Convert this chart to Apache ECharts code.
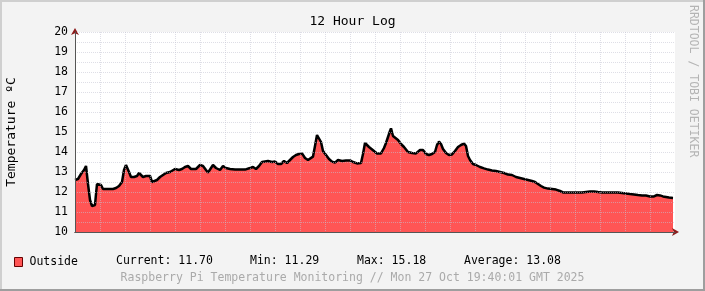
<!DOCTYPE html>
<html>
<head>
<meta charset="utf-8">
<script src="https://cdn.jsdelivr.net/npm/echarts@6/dist/echarts.min.js"></script>
<style>
html,body{margin:0;padding:0;background:#F3F3F3;}
#chart{width:705px;height:291px;}
</style>
</head>
<body>
<div id="chart"></div>
<script>
// time of each reading, minutes since midnight (07:40 .. 19:40)
var minutes = [
460,463.6,467.2,470.8,473.2,474.4,475.6,478,480.4,484,485.2,486.4,488.8,491.2,493.6,499.6,505.6,509.2,512.8,516.4,
518.8,521.2,522.4,524.8,527.2,530.8,534.4,536.8,539.2,541.6,545.2,547.6,550,552.4,554.8,558.4,562,565.6,569.2,571.6,
574,576.4,580,582.4,584.8,588.4,592,595.6,599.2,601.6,605.2,610,613.6,617.2,619.6,623.2,625.6,629.2,631.6,634,
637.6,641.2,646,652,658,664,670,673.6,677.2,680.8,684.4,686.8,691.6,696.4,700,703.6,707.2,710.8,714.4,718,
721.6,725.2,728.8,732.4,736,739.6,742,745.6,748,750.4,752.8,755.2,757.6,761.2,764.8,768.4,772,775.6,780.4,785.2,
790,793.6,798.4,803.2,805.6,808,810.4,812.8,815.2,818.8,822.4,827.2,830.8,833.2,835.6,838,839.2,841.6,844,847.6,
851.2,854.8,859.6,864.4,869.2,871.6,874,877.6,881.2,884.8,888.4,892,894.4,896.8,899.2,901.6,905.2,908.8,912.4,916,
919.6,923.2,926.8,929.2,931.6,934,937.6,941.2,946,950.8,955.6,960.4,965.2,970,974.8,979.6,984.4,989.2,994,998.8,
1003.6,1008.4,1012,1015.6,1019.2,1022.8,1027.6,1032.4,1037.2,1042,1045.6,1050.4,1056.4,1062.4,1068.4,1073.2,1078,1082.8,1087.6,1092.4,
1097.2,1102,1106.8,1111.6,1116.4,1121.2,1126,1130.8,1135.6,1140.4,1145.2,1150,1154.8,1158.4,1162,1165.6,1169.2,1172.8,1177.6
];
// outside temperature, °C
var temps = [
12.6,12.65,12.9,13.1,13.3,13.2,12.4,11.6,11.3,11.35,11.9,12.4,12.3,12.35,12.15,12.15,12.15,12.2,12.3,12.5,
13.1,13.35,13.4,13.0,12.75,12.75,12.8,12.95,12.85,12.75,12.8,12.7,12.8,12.5,12.45,12.6,12.75,12.85,12.95,12.9,
13.0,12.95,13.15,13.05,13.1,13.15,13.25,13.3,13.15,13.05,13.15,13.35,13.3,13.1,12.97,13.2,13.35,13.2,13.1,13.1,
13.3,13.2,13.15,13.12,13.12,13.12,13.2,13.25,13.15,13.3,13.5,13.58,13.55,13.5,13.52,13.4,13.4,13.55,13.45,13.6,
13.75,13.85,13.9,13.93,13.7,13.6,13.52,13.77,14.3,14.85,14.9,14.5,14.05,13.85,13.65,13.52,13.47,13.6,13.55,13.58,
13.58,13.5,13.43,13.45,13.9,14.45,14.4,14.25,14.2,14.05,13.93,13.93,14.2,14.45,14.75,15.05,15.18,14.8,14.9,14.6,
14.4,14.25,14.0,13.95,13.93,13.85,14.1,14.1,13.9,13.85,13.9,14.0,14.35,14.52,14.4,14.15,13.95,13.85,13.88,14.05,
14.25,14.35,14.42,14.3,13.8,13.6,13.4,13.35,13.25,13.18,13.12,13.08,13.05,13.0,12.95,12.87,12.85,12.75,12.7,12.65,
12.6,12.55,12.5,12.4,12.3,12.22,12.17,12.15,12.12,12.05,11.98,11.98,11.97,11.98,11.98,12.0,12.02,12.03,12.0,11.98,
11.97,11.97,11.98,11.97,11.95,11.93,11.9,11.88,11.85,11.83,11.82,11.78,11.78,11.85,11.83,11.78,11.75,11.72,11.70
];
var tickMinutes = [480, 600, 720, 840, 960, 1080];
var tickLabels = ['08:00', '10:00', '12:00', '14:00', '16:00', '18:00'];
var seriesName = 'Outside';
var statLabels = ['Current: 11.70', 'Min: 11.29', 'Max: 15.18', 'Average: 13.08'];
var titleText = '12 Hour Log';
var yName = 'Temperature \u00baC';
var footerText = 'Raspberry Pi Temperature Monitoring // Mon 27 Oct 19:40:01 GMT 2025';
var sideText = 'RRDTOOL / TOBI OETIKER';

var FONT = 'DejaVu Sans Mono';
var gridColor = 'rgba(195,195,210,0.55)';
var chart = echarts.init(document.getElementById('chart'), null, {renderer: 'canvas'});

var statX = [116, 250, 357, 464];
var graphics = [
  {type: 'rect', shape: {x: 0, y: 0, width: 705, height: 2}, style: {fill: '#CFCFCF'}, silent: true},
  {type: 'rect', shape: {x: 0, y: 0, width: 2, height: 291}, style: {fill: '#CFCFCF'}, silent: true},
  {type: 'rect', shape: {x: 0, y: 289, width: 705, height: 2}, style: {fill: '#9E9E9E'}, silent: true},
  {type: 'rect', shape: {x: 703, y: 0, width: 2, height: 291}, style: {fill: '#9E9E9E'}, silent: true},
  {type: 'text', x: 352.5, y: 278, style: {text: footerText, font: '11.5px "' + FONT + '"', fill: '#AAAAAA', align: 'center', verticalAlign: 'middle'}},
  {type: 'text', x: 693, y: 5, rotation: -Math.PI / 2, style: {text: sideText, font: '11.5px "' + FONT + '"', fill: '#B4B4B4', align: 'left', verticalAlign: 'middle'}}
];
statLabels.forEach(function (s, i) {
  graphics.push({type: 'text', x: statX[i], y: 261, style: {text: s, font: '11.5px "' + FONT + '"', fill: '#000', align: 'left', verticalAlign: 'middle'}});
});

var data = minutes.map(function (m, i) { return [m, temps[i]]; });

chart.setOption({
  animation: false,
  backgroundColor: '#F3F3F3',
  textStyle: {fontFamily: FONT},
  title: {
    text: titleText, left: 'center', top: 10,
    textStyle: {fontFamily: FONT, fontSize: 13, fontWeight: 'normal', color: '#000'}
  },
  legend: {
    left: 14, top: 256, padding: 0, itemWidth: 8, itemHeight: 9, itemGap: 10,
    data: [{name: seriesName, icon: 'rect', itemStyle: {color: '#FF5555', borderColor: '#600', borderWidth: 1}}],
    textStyle: {fontFamily: FONT, fontSize: 11.5, color: '#000', padding: [0, 0, 0, 2]}
  },
  grid: {
    left: 75, right: 30, top: 32, bottom: 59,
    outerBoundsMode: 'none', containLabel: false,
    show: true, backgroundColor: '#FFFFFF', borderWidth: 0
  },
  xAxis: [
    {
      type: 'value', min: 460, max: 1180, interval: 30, z: 5,
      axisLine: {show: true, lineStyle: {color: '#555', width: 1}},
      axisTick: {show: false},
      axisLabel: {
        margin: 5, color: '#000', fontFamily: FONT, fontSize: 11.5,
        formatter: function (v) { var k = tickMinutes.indexOf(v); return k >= 0 ? tickLabels[k] : ''; }
      },
      splitLine: {show: true, showMinLine: false, showMaxLine: false, lineStyle: {color: gridColor, type: [1, 1], width: 1}}
    },
    {
      type: 'value', min: 460, max: 1180, position: 'bottom', z: 4,
      axisLine: {show: true, symbol: ['none', 'arrow'], symbolSize: [6, 7], symbolOffset: [0, 4], lineStyle: {color: '#8B1A1A', width: 1}},
      axisTick: {show: false}, axisLabel: {show: false}, splitLine: {show: false}
    }
  ],
  yAxis: [
    {
      type: 'value', min: 10, max: 20, interval: 0.5, z: 5,
      name: yName, nameLocation: 'middle', nameGap: 57, nameRotate: 90,
      nameTextStyle: {fontFamily: FONT, fontSize: 13, color: '#000'},
      axisLine: {show: true, lineStyle: {color: '#555', width: 1}},
      axisTick: {show: false},
      axisLabel: {
        margin: 7, color: '#000', fontFamily: FONT, fontSize: 11.5,
        formatter: function (v) { return (Math.abs(v - Math.round(v)) < 1e-6) ? String(Math.round(v)) : ''; }
      },
      splitLine: {show: true, showMinLine: false, lineStyle: {color: gridColor, type: [1, 1], width: 1}}
    },
    {
      type: 'value', min: 10, max: 20, position: 'left', z: 4,
      axisLine: {show: true, symbol: ['none', 'arrow'], symbolSize: [6, 7], symbolOffset: [0, 4], lineStyle: {color: '#8B1A1A', width: 1}},
      axisTick: {show: false}, axisLabel: {show: false}, splitLine: {show: false}
    }
  ],
  series: [{
    name: seriesName, type: 'line', xAxisIndex: 0, yAxisIndex: 0,
    data: data, showSymbol: false, symbol: 'none',
    itemStyle: {color: '#FF5555'},
    lineStyle: {color: '#000', width: 2.5},
    areaStyle: {color: '#FF5555', opacity: 1, origin: 'start'},
    z: 2
  }],
  graphic: graphics
});
</script>
</body>
</html>
